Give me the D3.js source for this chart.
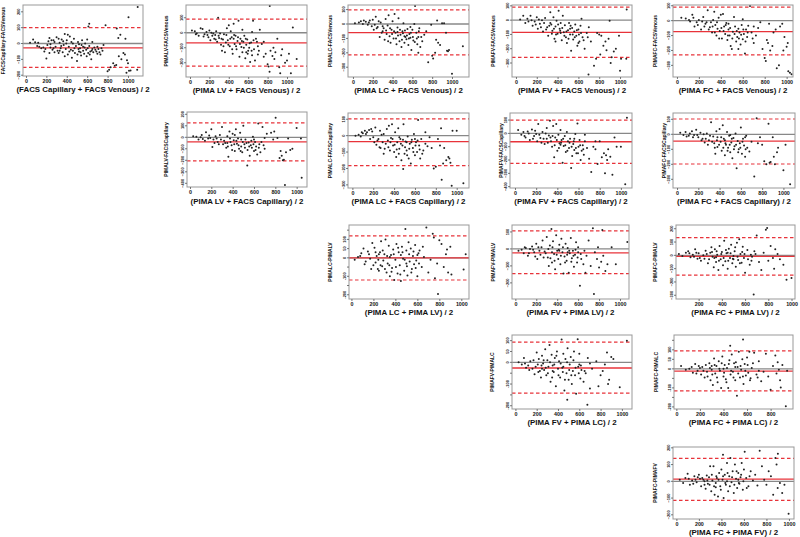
<!DOCTYPE html>
<html><head><meta charset="utf-8">
<script src="https://cdn.jsdelivr.net/npm/d3@7"></script>
<style>
body{margin:0;background:#fff}
svg{display:block}
text{font-family:'Liberation Sans',Arial,sans-serif;font-weight:bold;fill:#111}
</style>
</head><body>
<svg id="chart" width="800" height="537"></svg>
<script>
// ---------------- DATA ----------------
const xTitles = [
  "(FACS Capillary + FACS Venous) / 2",
  "(PIMA LV + FACS Venous) / 2",
  "(PIMA LC + FACS Venous) / 2",
  "(PIMA FV + FACS Venous) / 2",
  "(PIMA FC + FACS Venous) / 2",
  "(PIMA LV + FACS Capillary) / 2",
  "(PIMA LC + FACS Capillary) / 2",
  "(PIMA FV + FACS Capillary) / 2",
  "(PIMA FC + FACS Capillary) / 2",
  "(PIMA LC + PIMA LV) / 2",
  "(PIMA FV + PIMA LV) / 2",
  "(PIMA FC + PIMA LV) / 2",
  "(PIMA FV + PIMA LC) / 2",
  "(PIMA FC + PIMA LC) / 2",
  "(PIMA FC + PIMA FV) / 2"
];
const yTitles = [
  "FACSCapillary-FACSVenous",
  "PIMALV-FACSVenous",
  "PIMALC-FACSVenous",
  "PIMAFV-FACSVenous",
  "PIMAFC-FACSVenous",
  "PIMALV-FACSCapillary",
  "PIMALC-FACSCapillary",
  "PIMAFV-FACSCapillary",
  "PIMAFC-FACSCapillary",
  "PIMALC-PIMALV",
  "PIMAFV-PIMALV",
  "PIMAFC-PIMALV",
  "PIMAFV-PIMALC",
  "PIMAFC-PIMALC",
  "PIMAFC-PIMAFV"
];
const meanDiff = [-28, -67, -60, -86, -73, -40, -37, -63, -45, 0, -23, -7, -26, -12, 13];
const upperLoA = [100, 91, 98, 91, 91, 125, 102, 100, 102, 119, 106, 133, 93, 95, 137];
const lowerLoA = [-150, -222, -215, -260, -230, -205, -183, -225, -198, -120, -145, -148, -142, -116, -114];

const xTicksStd = [0, 200, 400, 600, 800, 1000];
const xTicksNoZero = [200, 400, 600, 800, 1000];
const xTicksTo800 = [0, 200, 400, 600, 800];
const yTicks100 = [-400, -300, -200, -100, 0, 100, 200];
const yTicks50 = [-200, -150, -100, -50, 0, 50, 100, 150];
const yLabels50 = [-200, -100, 0, 50, 100];

const pts1 = [[40,5],[70,25],[90,8],[110,-15],[130,-20],[150,-30],[170,-25],[190,-35],[200,-95],[210,-10],[220,15],[230,35],[240,-5],[250,20],[260,-40],[270,-30],[280,10],[290,-20],[300,40],[310,-45],[320,-60],[330,5],[340,-30],[350,25],[360,-55],[370,-10],[380,60],[390,-35],[400,20],[410,-70],[420,-20],[430,45],[440,-40],[450,-90],[460,0],[470,30],[480,-60],[490,-15],[500,-110],[510,10],[520,-50],[530,-30],[540,-75],[550,20],[560,-45],[570,-65],[580,0],[590,-40],[600,25],[610,-60],[620,-15],[630,-50],[640,-100],[650,-35],[660,-55],[680,-40],[700,-20],[720,-55],[740,-30],[760,-10],[620,125],[612,108],[780,115],[800,-175],[815,-165],[830,-150],[855,-125],[870,-140],[885,-135],[890,95],[905,35],[910,-80],[925,55],[935,-100],[955,-60],[970,-70],[975,30],[985,-185],[990,-105],[1000,-125],[1005,165],[1010,-172],[1025,-170],[1095,230],[1090,-165],[560,-20],[460,-45],[380,-80],[280,-55],[240,-25],[650,10],[700,-65],[320,30],[410,55],[520,-5],
  [120,5],[180,-50],[230,-60],[270,20],[330,-45],[345,-15],[365,15],[395,0],[425,-50],[445,10],[475,-30],[505,-70],[515,-35],[535,-55],[545,-10],[575,-25],[595,-80],[605,-30],[625,-70],[645,-45],[670,-25],[690,-50],[710,-35],[730,-70],[750,-45]];
const pts2 = [[20,15],[50,10],[70,-5],[90,-20],[110,30],[130,25],[150,-10],[170,5],[190,-30],[200,15],[210,-50],[220,0],[230,-20],[250,-40],[260,-15],[270,10],[290,100],[280,-60],[300,-35],[310,-5],[320,-80],[330,-120],[340,-45],[350,-10],[360,-130],[370,-65],[380,30],[390,-50],[400,50],[410,-90],[420,10],[430,-30],[440,-140],[450,60],[460,-75],[470,-20],[480,-110],[490,-55],[500,80],[510,-160],[520,-40],[530,-95],[540,-130],[550,-60],[560,-20],[570,-170],[580,-80],[590,-45],[600,-120],[610,-100],[620,-195],[630,-65],[640,-150],[650,80],[660,-110],[670,-185],[680,-40],[700,-90],[720,20],[740,-75],[760,-160],[780,-140],[800,-210],[810,-225],[820,-260],[822,178],[830,-120],[850,-155],[860,-100],[870,-175],[880,-130],[900,-40],[920,-230],[930,-270],[940,-150],[950,-110],[980,-200],[1000,-185],[1020,-140],[1040,-270],[1060,35],[1100,-175],[760,-60],[640,5],[540,20],[450,-40],[700,-145],[580,-130],
  [60,-10],[140,-25],[180,-15],[240,-5],[265,-45],[295,-20],[325,-40],[345,-90],[375,-15],[395,-80],[415,-40],[435,-110],[455,-15],[475,-90],[495,-30],[515,-75],[535,-55],[555,-100],[575,-40],[595,-140],[615,-70],[635,-120],[655,-50],[690,-60],[710,-120]];
const pts3 = [[20,5],[60,10],[80,20],[100,0],[130,15],[150,-5],[170,25],[190,-15],[200,30],[210,-40],[230,50],[250,-20],[270,-90],[280,10],[300,-50],[310,-30],[320,-110],[330,35],[340,-70],[350,-10],[360,60],[370,-85],[380,-130],[390,-40],[400,20],[410,-100],[420,70],[430,-60],[440,-140],[450,-25],[460,40],[470,-120],[480,-75],[490,-160],[500,-50],[510,5],[520,-130],[530,-90],[540,-105],[550,-35],[560,-145],[570,-70],[580,-95],[590,-180],[600,-40],[610,-115],[620,0],[627,125],[640,-60],[650,-140],[660,-90],[670,-30],[680,-160],[700,-120],[720,-75],[740,-50],[760,-265],[790,-5],[800,-220],[810,-240],[830,-200],[840,-110],[850,25],[860,-130],[880,-145],[900,5],[920,5],[940,-60],[950,-185],[960,-190],[970,-180],[1000,-345],[1110,-155],[580,-20],[450,-55],[300,-15],[660,-200],[520,-85],
  [110,25],[160,10],[220,-5],[240,-30],[260,20],[290,-60],[335,-45],[355,-120],[375,-30],[395,-70],[415,-50],[435,-100],[455,-80],[475,-40],[495,-110],[505,-65],[525,-45],[545,-80],[565,-100],[585,-60],[605,-90],[625,-125],[645,-100],[665,-50],[690,-90]];
const pts4 = [[40,5],[70,30],[90,-20],[110,10],[140,30],[160,-40],[180,-10],[200,20],[210,-60],[230,-25],[250,0],[260,-80],[280,15],[300,-50],[310,-110],[330,55],[340,-30],[350,-75],[360,20],[370,-130],[380,-45],[390,-5],[400,-95],[410,65],[420,-60],[430,-20],[440,-140],[450,30],[460,-85],[470,-35],[480,-120],[490,-160],[500,-70],[510,-20],[520,-100],[530,-215],[540,-55],[550,-135],[560,-80],[570,-30],[580,-110],[590,-180],[600,-65],[610,-150],[620,-40],[630,10],[640,-120],[660,-200],[680,-90],[697,-380],[720,-150],[750,-320],[770,-270],[780,-90],[800,-100],[810,-240],[820,-110],[840,-180],[860,-150],[870,-210],[890,-130],[900,-5],[910,-300],[920,-260],[940,-220],[960,-200],[990,-110],[1000,-355],[1010,-270],[1064,75],[1060,-270],[520,-60],[430,-90],[330,-20],[600,-160],[380,-150],[700,-50],
  [120,-10],[150,0],[190,-30],[220,5],[240,-50],[270,-20],[290,-65],[320,-40],[345,-95],[365,-60],[385,-100],[405,-30],[425,-75],[445,-55],[465,-110],[485,-80],[505,-130],[525,-40],[545,-100],[565,-120],[585,-70],[605,-100],[625,-90],[650,-140],[690,-120]];
const pts5 = [[40,20],[80,15],[110,5],[140,40],[160,-40],[180,-10],[200,5],[220,-60],[240,25],[260,-20],[280,70],[300,-45],[310,-10],[320,-80],[340,60],[350,-30],[360,-100],[370,-55],[380,20],[390,-70],[400,40],[410,-120],[420,45],[430,-40],[440,-90],[450,-15],[460,-130],[470,-60],[480,-100],[490,-170],[500,-190],[510,-75],[520,25],[530,-40],[540,-140],[550,-110],[560,-55],[570,-80],[580,-160],[590,-30],[600,-125],[610,-90],[620,-220],[630,-60],[640,-110],[650,-35],[666,98],[680,-80],[700,-150],[720,-100],[740,-50],[760,-10],[780,-190],[800,-250],[810,-270],[820,-130],[830,-150],[840,-20],[850,-200],[870,-170],[880,-80],[900,-60],[910,-320],[930,-300],[940,-40],[960,-20],[970,-200],[980,-110],[1000,-175],[1010,-150],[1015,-340],[1030,-350],[1045,-360],[600,10],[470,-20],[330,5],[700,-40],[560,-190],
  [120,-5],[150,20],[190,-30],[230,-5],[250,-40],[270,-10],[290,-60],[325,-40],[345,-80],[365,-10],[385,-120],[405,-50],[425,-70],[445,-30],[465,-100],[485,-50],[505,-120],[525,-90],[545,-70],[565,-120],[585,-95],[605,-60],[625,-140],[645,-80],[690,-120]];
const pts6 = [[30,10],[60,5],[80,-20],[100,0],[120,-15],[150,45],[170,-10],[190,-5],[200,70],[210,-85],[220,-20],[240,10],[260,-40],[280,20],[300,90],[310,-60],[320,-30],[340,-90],[350,10],[360,-170],[370,50],[380,-40],[390,-70],[400,30],[410,-25],[420,-120],[430,70],[440,-55],[450,-10],[460,-100],[470,40],[480,-80],[490,-130],[500,100],[510,-60],[520,-20],[537,-246],[540,-110],[550,-45],[560,-160],[570,-70],[580,-90],[590,5],[600,-120],[610,-40],[620,-80],[630,-150],[640,120],[650,-60],[660,-130],[680,90],[700,-100],[720,30],[760,40],[780,-20],[790,50],[803,171],[820,-5],[840,-180],[850,-120],[860,-160],[870,-200],[880,-195],[890,-414],[900,-130],[920,-10],[940,-110],[960,-100],[1000,80],[1040,-10],[1047,-351],[480,-20],[350,-50],[600,-20],[420,20],[700,-5],
  [110,20],[140,-30],[180,15],[230,-50],[250,-10],[270,-60],[290,-20],[330,-50],[355,-80],[375,-10],[395,-110],[415,-60],[435,-30],[455,-70],[475,-120],[495,-40],[515,-90],[530,-50],[555,-80],[575,-30],[595,-60],[615,-110],[645,-90],[670,-40],[690,-70]];
const pts7 = [[30,0],[60,5],[80,-5],[100,15],[120,30],[140,20],[160,35],[180,40],[200,-10],[210,-40],[220,50],[230,-55],[250,-20],[260,-70],[270,-75],[280,5],[300,-110],[320,-50],[330,40],[340,-30],[350,60],[360,-90],[370,-15],[380,70],[390,-60],[400,-100],[410,20],[420,-130],[430,-40],[440,45],[450,-80],[460,-20],[470,-150],[480,-60],[487,-203],[490,70],[500,-110],[510,-35],[520,-90],[530,-5],[540,-140],[550,-50],[560,-170],[570,-25],[580,-75],[590,10],[600,-120],[610,-40],[620,-100],[630,95],[640,-60],[650,-140],[660,-20],[680,-90],[700,-50],[720,-65],[740,-10],[760,-75],[780,-200],[800,-190],[820,-20],[840,-60],[850,45],[856,-269],[870,-170],[880,-75],[900,-150],[920,-130],[930,-140],[940,-165],[952,-306],[960,30],[1000,30],[1064,-290],[600,-20],[450,-10],[300,10],[520,-40],[700,20],
  [90,20],[130,10],[170,-20],[190,25],[240,-30],[265,30],[290,-40],[310,-80],[345,-70],[365,-40],[385,-20],[405,-55],[425,-85],[445,-110],[465,-50],[485,-25],[505,-70],[525,-120],[545,-80],[565,-40],[585,-100],[605,-60],[625,-30],[645,-85],[670,-110]];
const pts8 = [[30,25],[60,-10],[80,10],[100,-30],[120,15],[140,-50],[160,30],[180,-20],[200,-5],[210,-60],[220,70],[240,-35],[260,10],[280,-80],[300,40],[320,-15],[330,95],[340,-60],[350,-100],[360,55],[370,-180],[380,-30],[390,70],[400,-130],[410,-10],[420,-75],[430,25],[440,-50],[450,-220],[460,-95],[470,-20],[480,-140],[490,10],[500,-60],[510,-110],[520,-40],[530,-260],[540,-170],[550,-80],[560,-125],[570,-5],[580,-150],[590,75],[600,-100],[610,-50],[620,-200],[630,-130],[640,-90],[650,-160],[660,-60],[680,-110],[700,-190],[720,-290],[740,-100],[760,-120],[780,-230],[800,-60],[820,-180],[840,-150],[850,-300],[860,-165],[870,-200],[880,-120],[900,-175],[920,-310],[940,-30],[960,-100],[1000,-100],[1041,-382],[1057,118],[430,-85],[560,-40],[300,-40],[660,-10],[760,-60],
  [90,-20],[130,0],[170,-40],[190,20],[230,-10],[250,-70],[270,-40],[290,0],[310,-70],[335,-30],[355,-20],[375,-90],[395,-50],[415,-110],[435,-70],[455,-40],[475,-90],[495,-130],[515,-70],[535,-100],[555,-60],[575,-110],[595,-150],[615,-90],[645,-120]];
const pts9 = [[30,10],[60,-5],[80,15],[110,-10],[140,20],[160,-5],[180,30],[200,-20],[220,10],[240,-30],[260,-55],[280,5],[300,-40],[320,80],[340,-15],[350,-60],[360,-130],[370,20],[380,-85],[400,35],[410,-50],[420,-110],[430,60],[440,-30],[450,-140],[460,-70],[470,15],[480,-90],[490,-10],[500,-120],[510,-55],[520,-160],[530,-25],[540,-80],[550,5],[560,-227],[570,-45],[580,-100],[590,-60],[600,45],[610,-130],[620,-30],[630,-75],[640,-150],[650,-10],[660,-90],[680,-115],[700,-50],[726,-282],[748,107],[760,-60],[780,-20],[800,-70],[820,-180],[840,-200],[860,70],[870,-190],[880,-185],[900,-20],[910,-150],[920,-200],[940,-120],[950,-90],[1000,-240],[1020,-70],[1063,-333],[500,-5],[380,-20],[640,-20],[450,-40],
  [90,-15],[120,5],[150,-20],[190,-5],[230,-40],[250,0],[270,-30],[290,-70],[310,-10],[330,-50],[355,-90],[375,-40],[395,-70],[415,-20],[435,-90],[455,-60],[475,-110],[495,-70],[515,-30],[535,-100],[555,-70],[575,-120],[595,-90],[615,-50],[645,-100]];
const pts10 = [[30,-10],[60,5],[90,25],[110,50],[130,-20],[150,35],[170,-5],[190,80],[200,-40],[210,55],[220,-25],[230,10],[240,-60],[250,-70],[260,30],[270,90],[280,-45],[290,-15],[300,20],[310,100],[320,-80],[330,-30],[340,65],[350,-100],[360,15],[370,-55],[380,45],[390,-120],[400,-10],[410,75],[420,-85],[430,30],[440,-40],[450,-125],[460,60],[470,-5],[480,-70],[491,157],[500,40],[510,-95],[520,85],[530,-20],[540,50],[550,-60],[560,10],[570,-35],[580,70],[590,-15],[600,-100],[610,25],[620,40],[640,-50],[660,5],[682,164],[700,-80],[720,-10],[740,130],[750,110],[760,-110],[780,-30],[788,-196],[800,95],[820,75],[840,-50],[860,20],[870,45],[880,-80],[900,60],[910,-90],[1021,-63],[1040,20],[450,15],[350,5],[600,15],[500,-30],[250,20],
  [80,10],[120,-35],[160,20],[180,-60],[220,30],[245,-10],[265,-40],[285,40],[305,-60],[325,10],[345,-40],[365,-75],[385,20],[405,-50],[425,55],[445,-90],[465,30],[485,-10],[505,-45],[525,20],[545,-80],[565,35],[585,-55],[615,-30],[650,60]];
const pts11 = [[30,-10],[60,-5],[80,-25],[100,5],[120,-40],[140,0],[160,15],[180,-20],[200,30],[210,-60],[220,10],[240,-35],[260,50],[280,-15],[300,70],[310,-50],[320,-100],[330,20],[345,118],[350,-80],[360,45],[370,-30],[380,-120],[390,80],[400,-10],[410,-60],[420,25],[430,-90],[440,60],[450,-20],[460,-145],[470,-45],[480,30],[490,-70],[500,5],[510,-140],[520,-25],[530,65],[540,-55],[550,-10],[560,-105],[570,-35],[580,40],[590,-80],[600,-20],[617,-217],[630,-60],[650,-90],[670,-140],[680,-40],[700,50],[720,-100],[741,122],[751,-265],[760,-20],[780,-60],[790,10],[800,-110],[820,-75],[831,112],[840,-40],[860,-130],[880,-90],[920,10],[960,-90],[1070,41],[500,-20],[350,-20],[600,10],[420,-10],
  [90,10],[130,-25],[170,-5],[190,-45],[230,-10],[250,10],[270,-50],[290,-25],[315,0],[335,-55],[355,10],[375,-70],[395,-35],[415,-5],[435,-40],[455,10],[475,-80],[495,-35],[515,-10],[535,-75],[555,-40],[575,-5],[595,-50],[625,-30],[660,-10]];
const pts12 = [[30,10],[60,-5],[90,20],[110,30],[130,-15],[150,5],[170,45],[190,-25],[200,15],[220,-40],[240,0],[260,35],[280,-60],[300,20],[310,60],[320,-10],[330,-90],[340,45],[350,-50],[360,5],[370,-110],[380,70],[390,-30],[400,25],[410,-75],[420,110],[430,-45],[440,15],[450,-100],[460,50],[470,-20],[480,80],[490,-60],[500,-5],[510,30],[520,-85],[530,95],[540,-35],[550,120],[560,10],[570,-55],[580,65],[590,-20],[600,-130],[620,40],[640,-70],[660,-10],[674,-295],[680,30],[700,150],[720,-50],[740,-110],[760,20],[779,193],[790,205],[800,-40],[820,70],[840,-20],[850,-100],[860,45],[880,10],[900,-30],[930,-70],[957,-183],[1000,-170],[500,-30],[350,-15],[650,5],[450,20],
  [120,15],[160,-10],[180,20],[210,-20],[250,-25],[270,10],[290,-30],[315,25],[335,-20],[355,30],[375,-40],[395,10],[415,-20],[435,40],[455,-40],[475,15],[495,-25],[515,60],[535,-10],[555,-60],[575,25],[595,10],[625,-30],[655,-40],[690,10]];
const pts13 = [[30,0],[60,-10],[80,20],[100,-25],[120,-15],[140,5],[160,-30],[180,-55],[200,45],[210,-10],[220,15],[230,-40],[240,-70],[250,30],[260,-5],[270,-35],[280,60],[290,-60],[300,10],[310,-20],[320,80],[330,-90],[340,35],[350,-15],[360,-45],[370,20],[380,-110],[390,50],[400,-30],[410,5],[420,-70],[434,105],[440,-25],[450,40],[460,-130],[470,15],[480,-50],[487,-172],[490,65],[500,-80],[510,-10],[520,25],[530,-100],[540,-40],[550,50],[560,-60],[570,-145],[585,106],[590,-20],[600,40],[610,-75],[620,-35],[640,-90],[660,-50],[676,-195],[680,20],[700,-120],[720,-30],[760,5],[780,-110],[800,-60],[820,-40],[840,-10],[860,45],[870,-100],[880,-80],[900,25],[920,15],[980,-115],[1047,99],[450,-20],[350,-40],[600,-10],[250,-30],[700,-5],
  [90,-5],[130,-35],[170,10],[190,-20],[215,-45],[245,-15],[265,10],[285,-25],[305,-50],[325,0],[345,-70],[365,-10],[385,30],[405,-60],[425,-5],[445,-45],[465,-80],[485,0],[505,-35],[525,-60],[545,10],[565,-25],[595,-50],[615,-15],[650,-40]];
const pts14 = [[40,15],[80,-5],[110,0],[140,-20],[160,25],[180,-10],[200,5],[210,-30],[220,10],[240,-45],[250,20],[260,-15],[280,30],[290,-60],[300,-5],[310,-85],[320,55],[330,-25],[340,15],[350,-70],[360,40],[370,-10],[380,-100],[390,65],[400,-40],[410,20],[420,-55],[430,5],[440,-100],[450,45],[457,121],[460,-30],[470,75],[480,-15],[490,30],[500,-60],[514,-141],[520,10],[530,90],[540,-45],[550,-5],[560,50],[566,155],[570,-80],[580,25],[590,-35],[600,60],[610,-20],[620,90],[630,-50],[640,5],[660,85],[680,-30],[700,40],[720,-65],[740,-15],[760,80],[780,-40],[800,-110],[820,15],[840,70],[850,-25],[860,35],[870,-5],[880,-60],[886,-98],[900,20],[929,-197],[940,-10],[500,10],[400,0],[300,15],[700,-10],
  [130,10],[170,-25],[190,15],[230,-10],[265,-40],[285,5],[305,-30],[325,20],[345,-45],[365,0],[385,30],[405,-20],[425,-70],[445,25],[465,-10],[485,-45],[505,35],[525,-25],[545,15],[565,-40],[585,-10],[605,20],[625,-60],[650,30],[690,-45]];
const pts15 = [[30,10],[60,-10],[80,20],[100,45],[120,-20],[140,5],[160,30],[180,-5],[200,40],[210,15],[220,-30],[240,10],[260,-45],[270,35],[280,-15],[290,25],[300,90],[310,-60],[320,5],[330,90],[340,-80],[350,-10],[360,20],[370,-90],[380,50],[390,-30],[400,70],[410,10],[414,158],[420,-100],[430,40],[440,-20],[450,110],[460,-60],[470,30],[480,140],[490,-5],[500,60],[510,-70],[520,100],[530,15],[540,-40],[550,50],[560,-15],[570,25],[580,110],[590,-50],[600,70],[607,177],[620,20],[640,-30],[660,60],[680,5],[700,40],[720,-25],[740,183],[760,90],[780,10],[800,-20],[820,60],[840,30],[860,-80],[880,140],[890,100],[900,-40],[902,164],[920,-10],[940,-70],[960,-20],[997,-194],[450,0],[350,-35],[550,10],[250,0],
  [110,15],[150,-15],[170,10],[190,25],[230,20],[250,-20],[275,5],[295,-20],[315,40],[335,-30],[355,30],[375,10],[395,-50],[415,30],[435,-10],[455,50],[475,-30],[495,25],[515,-20],[535,60],[555,-10],[575,40],[595,0],[625,-40],[650,30]];

const pointSets = [pts1,pts2,pts3,pts4,pts5,pts6,pts7,pts8,pts9,pts10,pts11,pts12,pts13,pts14,pts15];

// ---------------- LAYOUT ----------------
// box: [left, top, width, height]; xDom / yDom: visible scale range; tg: y-title gap; ty: x-title baseline offset
const layout = [
  {box:[23,5,120,71],   xDom:[-29,1147], yDom:[-205,243], xt:xTicksStd,    yt:yTicks100, tg:20, ty:16},
  {box:[186,5,121,72],  xDom:[-41,1206], yDom:[-295,185], xt:xTicksStd,    yt:yTicks100, tg:20, ty:16},
  {box:[348,5,121,72],  xDom:[-50,1172], yDom:[-368,132], xt:xTicksStd,    yt:yTicks100, tg:18, ty:16},
  {box:[512,5,120,72],  xDom:[-38,1115], yDom:[-398,106], xt:xTicksStd,    yt:yTicks100, tg:19, ty:16},
  {box:[673,5,120,72],  xDom:[-36,1058], yDom:[-378,105], xt:xTicksStd,    yt:yTicks100, tg:18, ty:16},
  {box:[187,112,120,75],xDom:[-28,1097], yDom:[-432,220], xt:xTicksStd,    yt:yTicks100, tg:21, ty:16.5},
  {box:[348,113,121,75],xDom:[-42,1118], yDom:[-319,138], xt:xTicksStd,    yt:yTicks100, tg:18, ty:16},
  {box:[510,113,122,75],xDom:[-47,1105], yDom:[-410,153], xt:xTicksStd,    yt:yTicks100, tg:9,  ty:16},
  {box:[673,113,122,75],xDom:[-38,1109], yDom:[-358,142], xt:xTicksStd,    yt:yTicks100, tg:9,  ty:16},
  {box:[349,225,120,74],xDom:[-22,1070], yDom:[-223,178], xt:xTicksStd,    yt:yTicks50,  tg:19, ty:16},
  {box:[512,225,117,74],xDom:[-32,1086], yDom:[-295,141], xt:xTicksStd,    yt:yTicks100, tg:19, ty:16},
  {box:[676,225,119,74],xDom:[5,1030],   yDom:[-328,228], xt:xTicksNoZero, yt:yTicks100, tg:21, ty:16},
  {box:[512,335,120,74],xDom:[-32,1095], yDom:[-215,126], xt:xTicksStd,    yt:yTicks50,  tg:20, ty:16},
  {box:[674,335,119,74],xDom:[-20,990],  yDom:[-211,178], xt:xTicksTo800,  yt:yTicks50,  tg:18, ty:16},
  {box:[673,447,121,72],xDom:[-30,1045], yDom:[-225,205], xt:xTicksStd,    yt:yTicks100, tg:18, ty:15.5}
];

// ---------------- DRAW ----------------
const svg = d3.select("#chart");
const RED = "#e8333a";
const FONT = "'Liberation Sans',Arial,sans-serif";

layout.forEach((L, i) => {
  const [bx, by, bw, bh] = L.box;
  const x = d3.scaleLinear().domain(L.xDom).range([bx, bx + bw]);
  const y = d3.scaleLinear().domain(L.yDom).range([by + bh, by]);
  const g = svg.append("g");

  const cid = "clip" + i;
  svg.append("clipPath").attr("id", cid).append("rect")
    .attr("x", bx).attr("y", by).attr("width", bw).attr("height", bh);
  const pg = g.append("g").attr("clip-path", `url(#${cid})`);

  // zero line
  pg.append("line").attr("x1", bx).attr("x2", bx + bw)
    .attr("y1", y(0)).attr("y2", y(0))
    .attr("stroke", "#888").attr("stroke-width", 1.3);
  // mean line
  pg.append("line").attr("x1", bx).attr("x2", bx + bw)
    .attr("y1", y(meanDiff[i])).attr("y2", y(meanDiff[i]))
    .attr("stroke", RED).attr("stroke-width", 1.3);
  // limits of agreement
  [upperLoA[i], lowerLoA[i]].forEach(v => {
    pg.append("line").attr("x1", bx).attr("x2", bx + bw)
      .attr("y1", y(v)).attr("y2", y(v))
      .attr("stroke", RED).attr("stroke-width", 1.2)
      .attr("stroke-dasharray", "3.5,2.5");
  });

  // points
  pg.selectAll("circle").data(pointSets[i]).join("circle")
    .attr("cx", d => x(d[0])).attr("cy", d => y(d[1]))
    .attr("r", 1.0).attr("fill", "#222");

  // box
  g.append("rect").attr("x", bx).attr("y", by).attr("width", bw).attr("height", bh)
    .attr("fill", "none").attr("stroke", "#999").attr("stroke-width", 1);

  // x axis
  const xa = d3.axisBottom(x).tickValues(L.xt).tickSize(2).tickPadding(1).tickFormat(d3.format("d"));
  const xg = g.append("g").attr("transform", `translate(0,${by + bh})`).call(xa);
  xg.select(".domain").remove();
  xg.selectAll("line").attr("stroke", "#555").attr("stroke-width", 0.8);
  xg.selectAll("text").attr("font-size", 5.3).attr("font-family", FONT)
    .attr("font-weight", "bold").attr("fill", "#111");

  // y axis
  const yt = L.yt.filter(v => v >= L.yDom[0] && v <= L.yDom[1]);
  const fmt = L.yt === yTicks50 ? (d => yLabels50.includes(d) ? String(d) : "") : d3.format("d");
  const ya = d3.axisLeft(y).tickValues(yt).tickSize(2).tickFormat(fmt);
  const yg = g.append("g").attr("transform", `translate(${bx},0)`).call(ya);
  yg.select(".domain").remove();
  yg.selectAll("line").attr("stroke", "#555").attr("stroke-width", 0.8);
  yg.selectAll(".tick").attr("transform", null);
  yg.selectAll(".tick line").attr("y1", d => y(d)).attr("y2", d => y(d)).attr("x2", -2);
  yg.selectAll("text")
    .attr("x", null).attr("dy", null).attr("y", 0)
    .attr("text-anchor", "middle")
    .attr("transform", d => `translate(-5,${y(d)}) rotate(-90)`)
    .attr("dominant-baseline", "central")
    .attr("font-size", 3.9).attr("font-family", FONT)
    .attr("font-weight", "bold").attr("fill", "#111");

  // x title
  g.append("text").attr("x", bx + bw / 2).attr("y", by + bh + L.ty)
    .attr("text-anchor", "middle").attr("font-size", 7.9)
    .text(xTitles[i]);

  // y title
  g.append("text")
    .attr("transform", `translate(${bx - L.tg},${by + bh / 2}) rotate(-90)`)
    .attr("text-anchor", "middle").attr("dominant-baseline", "central")
    .attr("font-size", 5)
    .text(yTitles[i]);
});
</script>
</body></html>
